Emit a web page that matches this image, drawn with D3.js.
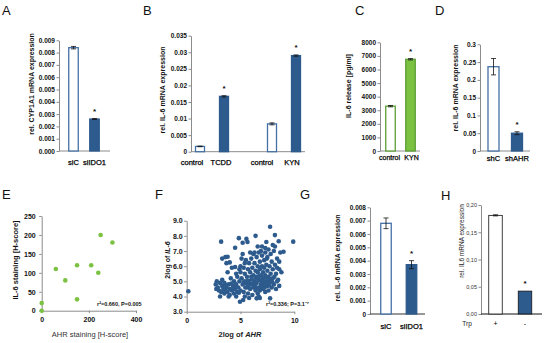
<!DOCTYPE html>
<html>
<head>
    <script src="https://cdnjs.cloudflare.com/ajax/libs/d3/7.8.5/d3.min.js"></script>
    <style>
        body { margin: 0; background: #fff; }
        svg { font-family: "Liberation Sans", Arial, sans-serif; }
    </style>
</head>
<body>
    <svg id="fig" width="550" height="343"></svg>
    <script>
        // A: CYP1A1 after IDO1 knockdown
        const aCats = ["siC", "siIDO1"];
        const aVals = [0.0084, 0.0026];
        const aErr = [0.0001, 0.00004];
        const aTicks = [0, 0.001, 0.002, 0.003, 0.004, 0.005, 0.006, 0.007, 0.008, 0.009];
        const aTickLabels = ["0.000", "0.001", "0.002", "0.003", "0.004", "0.005", "0.006", "0.007", "0.008", "0.009"];

        // B: IL-6 after TCDD / KYN
        const bCats = ["control", "TCDD", "", "control", "KYN"];
        const bVals = [0.0016, 0.0167, null, 0.0084, 0.029];
        const bErr = [0.0001, 0.0002, null, 0.0003, 0.0002];
        const bTicks = [0, 0.005, 0.01, 0.015, 0.02, 0.025, 0.03, 0.035];
        const bTickLabels = ["0", "0.005", "0.01", "0.015", "0.02", "0.025", "0.03", "0.035"];

        // C: IL-6 release
        const cCats = ["control", "KYN"];
        const cVals = [3300, 6750];
        const cErr = [50, 50];
        const cTicks = [0, 1000, 2000, 3000, 4000, 5000, 6000, 7000, 8000];
        const cTickLabels = ["0", "1000", "2000", "3000", "4000", "5000", "6000", "7000", "8000"];

        // D: IL-6 after AHR knockdown
        const dCats = ["shC", "shAHR"];
        const dVals = [0.237, 0.050];
        const dErr = [0.023, 0.004];
        const dTicks = [0, 0.05, 0.1, 0.15, 0.2, 0.25, 0.3];
        const dTickLabels = ["0", "0.05", "0.1", "0.15", "0.2", "0.25", "0.3"];

        // E: AHR vs IL-6 staining
        const eAhr = [0, 0, 60, 100, 150, 150, 210, 240, 250, 300];
        const eIl6 = [0, 20, 110, 80, 30, 120, 120, 100, 200, 180];
        const eXTicks = [0, 200, 400];
        const eYTicks = [0, 50, 100, 150, 200, 250];

        // F: 2log AHR vs 2log IL-6
        const fPoints = [
            [0.15,4.35],[3.2,7.62],[3.3,6.5],[3.7,6.2],[4.0,6.25],[4.5,7.22],[4.85,7.85],[5.2,7.55],[5.55,7.8],[5.65,7.6],
            [6.4,8.0],[7.75,8.6],[8.2,8.05],[8.55,7.65],[9.9,7.62],[9.0,6.95],[7.0,7.3],[7.3,7.2],[7.45,6.5],[8.6,5.8],
            [8.4,5.9],[4.95,3.66],[5.25,3.77],[6.5,3.88],[6.8,3.9],[7.75,3.88],[3.1,4.0],[3.6,6.6],[3.8,6.62],
            [2.7,4.8],[2.75,4.5],[2.8,5.0],[2.9,4.6],[3.0,4.4],[3.1,4.9],[3.2,4.3],[3.3,4.7],[3.4,4.5],[3.5,4.2],
            [3.5,4.9],[3.6,4.4],[3.7,4.6],[3.8,4.3],[3.9,4.8],[4.0,4.5],[4.0,4.1],[4.1,5.2],[4.2,4.4],[4.3,4.7],
            [4.4,4.2],[4.4,5.0],[4.5,4.5],[4.6,4.8],[4.7,4.3],[4.7,5.3],[4.8,4.6],[4.9,5.0],[5.0,4.4],[5.0,5.6],
            [3.3,5.1],[3.8,5.6],[4.2,5.9],[4.5,5.95],[4.6,5.5],[4.9,5.8],[5.0,6.0],[5.1,6.5],[5.1,5.2],[5.2,4.8],
            [5.3,4.3],[5.3,5.9],[5.4,5.5],[5.5,6.4],[5.5,4.9],[5.6,4.6],[5.6,5.3],[5.7,4.2],[5.7,5.8],[5.8,6.2],
            [5.8,5.0],[5.9,4.5],[5.9,5.6],[6.0,6.5],[6.0,4.8],[6.0,5.3],
            [6.1,4.1],[6.1,5.9],[6.2,4.6],[6.2,5.4],[6.2,6.8],[6.3,5.0],[6.3,6.2],[6.4,4.4],[6.4,5.7],[6.5,4.9],
            [6.5,6.6],[6.5,5.3],[6.6,4.2],[6.6,6.0],[6.6,5.6],[6.7,4.6],[6.7,6.9],[6.7,5.1],[6.8,5.8],[6.8,4.4],
            [6.8,6.3],[6.9,5.4],[6.9,4.8],[7.0,6.0],[7.0,5.0],[7.0,6.7],[7.1,4.5],[7.1,5.6],[7.1,5.2],[7.2,6.4],
            [7.2,4.9],[7.2,5.9],[7.3,4.3],[7.3,5.4],[7.3,6.9],[7.4,5.0],[7.4,6.1],[7.5,4.7],[7.5,5.7],[7.5,6.6],
            [7.6,5.3],[7.6,4.4],[7.7,6.0],[7.7,5.0],[7.8,6.8],[7.8,5.5],[7.9,4.6],[7.9,6.3],[8.0,5.2],[8.0,5.8],
            [8.1,7.0],[8.1,4.8],[8.2,6.1],[8.3,5.5],[8.3,4.5],[8.4,6.5],[8.5,5.1],[8.6,6.3],[8.7,6.9],[8.8,5.6],
            [8.0,7.4],[7.6,7.1],[6.9,7.0],[6.3,6.9],[5.9,6.9],[5.4,6.2],[5.2,6.8],[6.7,4.0],[5.8,3.9],[5.4,4.0],
            [4.6,4.0],[3.9,4.0],[8.2,7.3],[7.4,7.6],[6.6,7.3],
            [5.35,5.0],[5.45,4.6],[5.65,5.05],[5.75,4.75],[6.05,5.15],[6.15,4.85],[6.35,4.7],[6.45,5.2],[6.55,4.55],[6.75,5.35],
            [6.85,5.05],[6.95,4.6],[7.05,4.75],[7.15,5.0],[7.25,4.6],[7.35,4.8],[7.45,5.25],[7.55,5.0],[7.65,4.75],[7.85,5.15],
            [7.95,4.95],[8.15,5.3],[8.4,5.0],[8.6,4.7],[4.3,4.5],[4.55,4.75],[4.85,4.25],[3.65,4.75],[3.45,4.35],[4.15,4.85]
        ];
        const fXTicks = [0, 5, 10];
        const fYTicks = [3, 4, 5, 6, 7, 8, 9];

        // G: IL-6 after IDO1 knockdown
        const gCats = ["siC", "siIDO1"];
        const gVals = [0.0068, 0.0037];
        const gErr = [0.0004, 0.0003];
        const gTicks = [0, 0.001, 0.002, 0.003, 0.004, 0.005, 0.006, 0.007, 0.008];
        const gTickLabels = ["0", "0.001", "0.002", "0.003", "0.004", "0.005", "0.006", "0.007", "0.008"];

        // H: IL6 with / without Trp
        const hCats = ["+", "-"];
        const hVals = [0.181, 0.042];
        const hErr = [0.001, 0];
        const hTicks = [0, 0.05, 0.1, 0.15, 0.2];
        const hTickLabels = ["0,00", "0,05", "0,10", "0,15", "0,20"];

        const blue = "#2e5b8d", blueLine = "#4470a6";
        const green = "#7cc242", greenLine = "#5c9e36";
        const axisGrey = "#8c8c8c";

        const svg = d3.select("#fig");

        function letter(txt, x, y) {
            svg.append("text").attr("x", x).attr("y", y)
                .attr("font-size", 13).attr("fill", "#111").text(txt);
        }

        function yTitle(txt, x, cy, opts = {}) {
            svg.append("text")
                .attr("transform", `translate(${x},${cy}) rotate(-90)`)
                .attr("text-anchor", "middle")
                .attr("dy", "0.35em")
                .attr("font-size", opts.size || 7)
                .attr("font-weight", opts.weight || "bold")
                .attr("fill", opts.fill || "#111")
                .text(txt);
        }

        function styleAxis(g, o) {
            g.select(".domain").attr("stroke", axisGrey);
            g.selectAll(".tick line").attr("stroke", axisGrey);
            g.selectAll(".tick text")
                .attr("font-size", o.tickSize || 6.5)
                .attr("font-weight", o.tickWeight || "bold")
                .attr("fill", o.tickFill || "#111")
                .attr("font-family", "'Liberation Sans', Arial, sans-serif");
        }

        function barPanel(o) {
            const x = d3.scalePoint().domain(d3.range(o.cats.length)).range(o.centers);
            const y = d3.scaleLinear().domain(o.domain).range(o.yRange);

            const gy = svg.append("g").attr("transform", `translate(${o.axisX[0]},0)`)
                .call(d3.axisLeft(y).tickValues(o.ticks)
                    .tickFormat((d, i) => o.tickLabels[i]).tickSize(2.5).tickSizeOuter(0));
            styleAxis(gy, o);
            gy.selectAll(".tick text").attr("x", -4);

            svg.append("line")
                .attr("x1", o.axisX[0]).attr("x2", o.axisX[1])
                .attr("y1", y(0)).attr("y2", y(0))
                .attr("stroke", o.baseStroke || axisGrey);

            const rows = o.vals.map((v, i) => ({ v, e: o.err[i], i })).filter(d => d.v !== null);

            svg.selectAll(null).data(rows).enter().append("rect")
                .attr("x", d => x(d.i) - o.barW / 2)
                .attr("y", d => y(d.v))
                .attr("width", o.barW)
                .attr("height", d => y(0) - y(d.v))
                .attr("fill", d => o.fills[d.i])
                .attr("stroke", d => o.strokes[d.i])
                .attr("stroke-width", o.strokeW || 1.3);

            const eb = svg.selectAll(null).data(rows.filter(d => d.e > 0)).enter().append("g")
                .attr("stroke", "#111").attr("stroke-width", 0.8);
            eb.append("line")
                .attr("x1", d => x(d.i)).attr("x2", d => x(d.i))
                .attr("y1", d => y(d.v + d.e)).attr("y2", d => y(d.v - d.e));
            eb.append("line")
                .attr("x1", d => x(d.i) - 2.5).attr("x2", d => x(d.i) + 2.5)
                .attr("y1", d => y(d.v + d.e)).attr("y2", d => y(d.v + d.e));
            eb.append("line")
                .attr("x1", d => x(d.i) - 2.5).attr("x2", d => x(d.i) + 2.5)
                .attr("y1", d => y(d.v - d.e)).attr("y2", d => y(d.v - d.e));

            const dx = o.labelDx || o.cats.map(() => 0);
            svg.selectAll(null).data(o.cats.map((c, i) => ({ c, i }))).enter().append("text")
                .attr("x", d => x(d.i) + dx[d.i]).attr("y", o.labelY)
                .attr("text-anchor", "middle")
                .attr("font-size", o.labelSize || 7.5)
                .attr("fill", "#000")
                .attr("stroke", o.labelStroke === undefined ? "#000" : o.labelStroke)
                .attr("stroke-width", 0.25)
                .text(d => d.c);

            o.stars.forEach(i => {
                svg.append("text")
                    .attr("x", x(i)).attr("y", y(o.vals[i] + o.err[i]) - 5)
                    .attr("text-anchor", "middle")
                    .attr("font-size", 8).attr("font-weight", "bold").attr("fill", "#111")
                    .text("*");
            });
        }

        // ---- Panel A
        letter("A", 2, 15);
        yTitle("rel. CYP1A1 mRNA  expression", 32, 84);
        barPanel({
            cats: aCats, vals: aVals, err: aErr, ticks: aTicks, tickLabels: aTickLabels,
            centers: [73.5, 94.5], axisX: [59, 110], domain: [0, 0.009], yRange: [151, 40.3],
            barW: 9.5, fills: ["#fff", blue], strokes: [blueLine, blue], labelY: 165, stars: [1]
        });

        // ---- Panel B
        letter("B", 143, 15);
        yTitle("rel. IL-6 mRNA expression", 163, 90);
        barPanel({
            cats: bCats, vals: bVals, err: bErr, ticks: bTicks, tickLabels: bTickLabels,
            centers: [200, 296], axisX: [191, 305], domain: [0, 0.035], yRange: [151.7, 35.7],
            barW: 9, fills: ["#fff", blue, null, "#fff", blue], strokes: [blueLine, blue, null, blueLine, blue],
            labelY: 165, stars: [1, 4], labelDx: [-8, -3, 0, -10, -4]
        });

        // ---- Panel C
        letter("C", 355, 15);
        yTitle("IL-6 release [pg/ml]", 349, 86);
        barPanel({
            cats: cCats, vals: cVals, err: cErr, ticks: cTicks, tickLabels: cTickLabels,
            centers: [390.5, 410.5], axisX: [380, 420], domain: [0, 8000], yRange: [151, 42.3],
            barW: 9.5, fills: ["#fff", green], strokes: [greenLine, greenLine], labelY: 160, stars: [1],
            labelSize: 7, labelDx: [-1, 1]
        });

        // ---- Panel D
        letter("D", 435, 15);
        yTitle("rel.  IL-6 mRNA expression", 456, 88);
        barPanel({
            cats: dCats, vals: dVals, err: dErr, ticks: dTicks, tickLabels: dTickLabels,
            centers: [493.5, 517], axisX: [480, 530], domain: [0, 0.3], yRange: [151, 44.3],
            barW: 11, fills: ["#fff", blue], strokes: [blueLine, blue], labelY: 161, stars: [1]
        });

        // ---- Panel E
        letter("E", 2, 199);
        {
            const x = d3.scaleLinear().domain([0, 400]).range([41.7, 136]);
            const y = d3.scaleLinear().domain([0, 250]).range([310.7, 216]);
            const gx = svg.append("g").attr("transform", `translate(0,${y(0)})`)
                .call(d3.axisBottom(x).tickValues(eXTicks).tickSize(2.5).tickSizeOuter(0));
            styleAxis(gx, { tickSize: 7 });
            gx.selectAll(".tick text").attr("y", 6);
            const gy = svg.append("g").attr("transform", `translate(${x(0)},0)`)
                .call(d3.axisLeft(y).tickValues(eYTicks).tickSize(2.5).tickSizeOuter(0));
            styleAxis(gy, { tickSize: 7 });
            gy.selectAll(".tick text").attr("x", -6);
            svg.selectAll(null).data(eAhr).enter().append("circle")
                .attr("cx", d => x(d)).attr("cy", (d, i) => y(eIl6[i]))
                .attr("r", 2.3).attr("fill", green);
            yTitle("IL-6 staining  [H-score]", 15, 260, { size: 7.5 });
            svg.append("text").attr("x", 90).attr("y", 337).attr("text-anchor", "middle")
                .attr("font-size", 7.5).attr("fill", "#333").text("AHR staining  [H-score]");
            svg.append("text").attr("x", 97).attr("y", 305.5).attr("font-size", 5.5)
                .attr("font-weight", "bold").attr("fill", "#111").text("r²=0.660, P=0.005");
        }

        // ---- Panel F
        letter("F", 155, 199);
        {
            const x = d3.scaleLinear().domain([0, 10]).range([186.7, 294.3]);
            const y = d3.scaleLinear().domain([3, 9]).range([311.7, 220.7]);
            const gx = svg.append("g").attr("transform", `translate(0,${y(3)})`)
                .call(d3.axisBottom(x).tickValues(fXTicks).tickSize(2.5).tickSizeOuter(0));
            styleAxis(gx, { tickSize: 7 });
            gx.selectAll(".tick text").attr("y", 6);
            const gy = svg.append("g").attr("transform", `translate(${x(0)},0)`)
                .call(d3.axisLeft(y).tickValues(fYTicks).tickSize(2.5).tickSizeOuter(0));
            styleAxis(gy, { tickSize: 7 });
            gy.selectAll(".tick text").attr("x", -4);
            svg.selectAll(null).data(fPoints).enter().append("circle")
                .attr("cx", d => x(d[0])).attr("cy", d => y(d[1]))
                .attr("r", 2.3).attr("fill", blue);

            const yt = svg.append("text")
                .attr("transform", "translate(168,260) rotate(-90)")
                .attr("text-anchor", "middle").attr("dy", "0.35em")
                .attr("font-size", 7).attr("font-weight", "bold").attr("fill", "#111");
            yt.append("tspan").text("2log of ");
            yt.append("tspan").attr("font-style", "italic").text("IL-6");

            const xt = svg.append("text").attr("x", 240).attr("y", 337)
                .attr("text-anchor", "middle").attr("font-size", 7.5)
                .attr("font-weight", "bold").attr("fill", "#222");
            xt.append("tspan").text("2log of ");
            xt.append("tspan").attr("font-style", "italic").text("AHR");

            svg.append("text").attr("x", 266).attr("y", 306).attr("font-size", 5.5)
                .attr("font-weight", "bold").attr("fill", "#111").text("r²=0.336; P=3.1⁻⁷");
        }

        // ---- Panel G
        letter("G", 300, 199);
        yTitle("rel.  IL-6 mRNA expression", 338, 258);
        barPanel({
            cats: gCats, vals: gVals, err: gErr, ticks: gTicks, tickLabels: gTickLabels,
            centers: [386, 411.5], axisX: [370, 425], domain: [0, 0.008], yRange: [314, 207.3],
            barW: 10.5, fills: ["#fff", blue], strokes: [blueLine, blue], labelY: 329, stars: [1],
            baseStroke: "#333"
        });

        // ---- Panel H
        letter("H", 441, 200);
        yTitle("rel. IL6 mRNA expression", 462, 241, { size: 6.5, weight: "normal", fill: "#222" });
        barPanel({
            cats: hCats, vals: hVals, err: hErr, ticks: hTicks, tickLabels: hTickLabels,
            centers: [495.5, 525], axisX: [481, 542], domain: [0, 0.2], yRange: [314, 205],
            barW: 13.5, fills: ["#fff", blue], strokes: ["#111", "#111"], strokeW: 0.8,
            labelY: 326, labelSize: 7, labelStroke: "none", stars: [1],
            tickSize: 5.5, tickWeight: "normal", tickFill: "#333", baseStroke: "#111"
        });
        svg.append("text").attr("x", 467).attr("y", 326).attr("text-anchor", "middle")
            .attr("font-size", 6.5).attr("fill", "#222").text("Trp");
    </script>
</body>
</html>
